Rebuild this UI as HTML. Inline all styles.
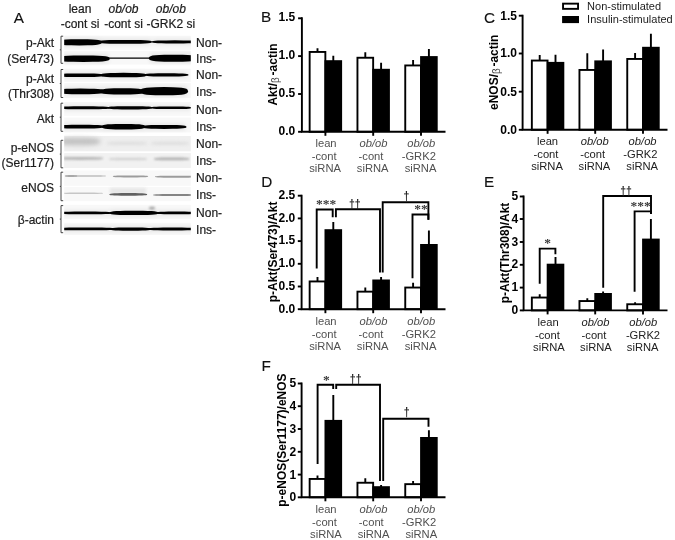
<!DOCTYPE html>
<html><head><meta charset="utf-8"><title>Figure</title>
<style>
html,body{margin:0;padding:0;background:#fff;}
svg{display:block;}
text{font-family:"Liberation Sans",Arial,sans-serif;}
.ax{stroke:#000;stroke-width:1.9;fill:none;}
.tk{font-weight:bold;font-size:12px;fill:#000;text-anchor:end;}
.yl{font-weight:bold;font-size:12px;fill:#000;text-anchor:middle;}
.xl{font-size:11.2px;text-anchor:middle;}
.pl{font-size:15.3px;fill:#111;stroke:#111;stroke-width:0.12px;}
.sg{font-family:"Liberation Serif","DejaVu Serif",serif;font-size:13.5px;font-weight:bold;fill:#3a3a3a;text-anchor:middle;}
.dg{font-family:"Liberation Sans","DejaVu Sans",sans-serif;font-size:10.5px;font-weight:bold;fill:#222;text-anchor:middle;}
.al{font-size:12px;fill:#1c1c1c;stroke:#1c1c1c;stroke-width:0.2px;}
</style></head><body>
<svg width="675" height="540" viewBox="0 0 675 540">
<defs>
<filter id="b0" x="-20%" y="-100%" width="140%" height="300%" color-interpolation-filters="sRGB"><feGaussianBlur stdDeviation="0.75"/></filter>
<filter id="b1" x="-20%" y="-100%" width="140%" height="300%" color-interpolation-filters="sRGB"><feGaussianBlur stdDeviation="1.0"/></filter>
<filter id="b2" x="-20%" y="-100%" width="140%" height="300%" color-interpolation-filters="sRGB"><feGaussianBlur stdDeviation="1.4"/></filter>
<filter id="b3" x="-20%" y="-100%" width="140%" height="300%" color-interpolation-filters="sRGB"><feGaussianBlur stdDeviation="2.0"/></filter>
</defs>
<rect width="675" height="540" fill="#fff"/>
<g>
<text class="pl" x="261.1" y="22.1">B</text>
<path class="ax" d="M317.5 48.3V52.0M333.3 55.7V61.2"/>
<rect x="309.65" y="51.95" width="15.70" height="79.85" fill="#fff" stroke="#000" stroke-width="1.9"/>
<rect x="324.50" y="60.20" width="17.60" height="71.60" fill="#000"/>
<path class="ax" d="M365.3 52.3V57.8M381.1 62.7V69.8"/>
<rect x="357.45" y="57.75" width="15.70" height="74.05" fill="#fff" stroke="#000" stroke-width="1.9"/>
<rect x="372.30" y="68.80" width="17.60" height="63.00" fill="#000"/>
<path class="ax" d="M413.1 59.9V65.5M428.9 49.0V57.1"/>
<rect x="405.25" y="65.45" width="15.70" height="66.35" fill="#fff" stroke="#000" stroke-width="1.9"/>
<rect x="420.10" y="56.10" width="17.60" height="75.70" fill="#000"/>
<path class="ax" d="M301.9 17.35V131.8H445.5"/>
<path class="ax" d="M298.1 18.3H301.9"/>
<text class="tk" x="295.3" y="21.4">1.5</text>
<path class="ax" d="M298.1 56.1H301.9"/>
<text class="tk" x="295.3" y="59.2">1.0</text>
<path class="ax" d="M298.1 94.0H301.9"/>
<text class="tk" x="295.3" y="97.1">0.5</text>
<path class="ax" d="M298.1 131.8H301.9"/>
<text class="tk" x="295.3" y="134.9">0.0</text>
<path class="ax" d="M325.4 131.8V135.8"/>
<text class="xl" fill="#505050" x="326.0" y="146.8">lean</text>
<text class="xl" fill="#505050" x="324.2" y="159.8">-cont</text>
<text class="xl" fill="#505050" x="325.1" y="171.7">siRNA</text>
<path class="ax" d="M373.2 131.8V135.8"/>
<text class="xl" fill="#505050" x="373.5" y="146.8"><tspan font-style="italic">ob/ob</tspan></text>
<text class="xl" fill="#505050" x="371.0" y="159.8">-cont</text>
<text class="xl" fill="#505050" x="372.7" y="171.7">siRNA</text>
<path class="ax" d="M421.0 131.8V135.8"/>
<text class="xl" fill="#505050" x="421.3" y="146.8"><tspan font-style="italic">ob/ob</tspan></text>
<text class="xl" fill="#505050" x="418.8" y="159.8">-GRK2</text>
<text class="xl" fill="#505050" x="420.5" y="171.7">siRNA</text>
<text class="yl" transform="translate(277.3 74.5) rotate(-90)">Akt/<tspan font-weight="normal" font-size="10px" fill="#444" dy="1.2">β</tspan><tspan dy="-1.2" font-size="6px"> </tspan>-actin</text>
</g>
<g>
<text class="pl" x="483.9" y="22.8">C</text>
<path class="ax" d="M539.7 55.1V60.6M555.5 54.8V62.9"/>
<rect x="531.85" y="60.55" width="15.70" height="69.25" fill="#fff" stroke="#000" stroke-width="1.9"/>
<rect x="546.70" y="61.90" width="17.60" height="67.90" fill="#000"/>
<path class="ax" d="M587.3 53.3V70.0M603.1 49.4V61.4"/>
<rect x="579.45" y="69.95" width="15.70" height="59.85" fill="#fff" stroke="#000" stroke-width="1.9"/>
<rect x="594.30" y="60.40" width="17.60" height="69.40" fill="#000"/>
<path class="ax" d="M635.1 53.0V59.0M650.9 33.8V47.8"/>
<rect x="627.25" y="58.95" width="15.70" height="70.85" fill="#fff" stroke="#000" stroke-width="1.9"/>
<rect x="642.10" y="46.80" width="17.60" height="83.00" fill="#000"/>
<path class="ax" d="M522.6 14.75V129.8H667.5"/>
<path class="ax" d="M518.8 15.7H522.6"/>
<text class="tk" x="516.9" y="19.5">1.5</text>
<path class="ax" d="M518.8 53.5H522.6"/>
<text class="tk" x="516.9" y="57.3">1.0</text>
<path class="ax" d="M518.8 91.7H522.6"/>
<text class="tk" x="516.9" y="95.5">0.5</text>
<path class="ax" d="M518.8 129.8H522.6"/>
<text class="tk" x="516.9" y="133.6">0.0</text>
<path class="ax" d="M547.6 129.8V133.8"/>
<text class="xl" fill="#222" x="547.5" y="145.0">lean</text>
<text class="xl" fill="#222" x="546.0" y="158.0">-cont</text>
<text class="xl" fill="#222" x="547.0" y="169.9">siRNA</text>
<path class="ax" d="M595.2 129.8V133.8"/>
<text class="xl" fill="#222" x="594.8" y="145.0"><tspan font-style="italic">ob/ob</tspan></text>
<text class="xl" fill="#222" x="592.6" y="158.0">-cont</text>
<text class="xl" fill="#222" x="594.4" y="169.9">siRNA</text>
<path class="ax" d="M643.0 129.8V133.8"/>
<text class="xl" fill="#222" x="642.6" y="145.0"><tspan font-style="italic">ob/ob</tspan></text>
<text class="xl" fill="#222" x="640.4" y="158.0">-GRK2</text>
<text class="xl" fill="#222" x="642.2" y="169.9">siRNA</text>
<text class="yl" transform="translate(498.3 72.3) rotate(-90)">eNOS/<tspan font-weight="normal" font-size="10px" fill="#444" dy="1.2">β</tspan><tspan dy="-1.2" font-size="6px"> </tspan>-actin</text>
</g>
<g>
<text class="pl" x="261.2" y="187.1">D</text>
<path class="ax" d="M317.5 277.0V281.5M333.3 222.1V230.2"/>
<rect x="309.65" y="281.45" width="15.70" height="27.75" fill="#fff" stroke="#000" stroke-width="1.9"/>
<rect x="324.50" y="229.20" width="17.60" height="80.00" fill="#000"/>
<path class="ax" d="M365.3 287.6V291.7M381.1 277.0V280.5"/>
<rect x="357.45" y="291.65" width="15.70" height="17.55" fill="#fff" stroke="#000" stroke-width="1.9"/>
<rect x="372.30" y="279.50" width="17.60" height="29.70" fill="#000"/>
<path class="ax" d="M413.1 282.7V287.6M428.9 230.5V245.0"/>
<rect x="405.25" y="287.55" width="15.70" height="21.65" fill="#fff" stroke="#000" stroke-width="1.9"/>
<rect x="420.10" y="244.00" width="17.60" height="65.20" fill="#000"/>
<path class="ax" d="M301.6 194.75V309.2H445.5"/>
<path class="ax" d="M297.8 195.7H301.6"/>
<text class="tk" x="295.3" y="199.0">2.5</text>
<path class="ax" d="M297.8 218.4H301.6"/>
<text class="tk" x="295.3" y="221.7">2.0</text>
<path class="ax" d="M297.8 241.1H301.6"/>
<text class="tk" x="295.3" y="244.4">1.5</text>
<path class="ax" d="M297.8 263.8H301.6"/>
<text class="tk" x="295.3" y="267.1">1.0</text>
<path class="ax" d="M297.8 286.5H301.6"/>
<text class="tk" x="295.3" y="289.8">0.5</text>
<path class="ax" d="M297.8 309.2H301.6"/>
<text class="tk" x="295.3" y="312.5">0.0</text>
<path class="ax" d="M325.4 309.2V313.2"/>
<text class="xl" fill="#505050" x="326.0" y="324.6">lean</text>
<text class="xl" fill="#505050" x="324.2" y="337.6">-cont</text>
<text class="xl" fill="#505050" x="325.1" y="349.5">siRNA</text>
<path class="ax" d="M373.2 309.2V313.2"/>
<text class="xl" fill="#505050" x="373.5" y="324.6"><tspan font-style="italic">ob/ob</tspan></text>
<text class="xl" fill="#505050" x="371.0" y="337.6">-cont</text>
<text class="xl" fill="#505050" x="372.7" y="349.5">siRNA</text>
<path class="ax" d="M421.0 309.2V313.2"/>
<text class="xl" fill="#505050" x="421.3" y="324.6"><tspan font-style="italic">ob/ob</tspan></text>
<text class="xl" fill="#505050" x="418.8" y="337.6">-GRK2</text>
<text class="xl" fill="#505050" x="420.5" y="349.5">siRNA</text>
<text class="yl" transform="translate(276.6 251.9) rotate(-90)">p-Akt(Ser473)/Akt</text>
<path class="ax" d="M316.7 268.4V209.5H332.7V217.3"/>
<path class="ax" d="M335.9 217.3V209.3H380.0V272.4"/>
<path class="ax" d="M382.7 272.4V202.2H428.4V219.8"/>
<path class="ax" d="M412.5 278.2V214.5H428.4V219.8"/>
<text class="sg" x="326.0" y="208.4">***</text>
<text class="dg" transform="translate(354.8 207.9) scale(1 1.2)">††</text>
<text class="dg" transform="translate(406.5 199.9) scale(1 1.2)">†</text>
<text class="sg" x="421.1" y="213.2">**</text>
</g>
<g>
<text class="pl" x="484.0" y="186.6">E</text>
<path class="ax" d="M539.7 294.3V297.6M555.5 257.1V264.7"/>
<rect x="531.85" y="297.55" width="15.70" height="12.85" fill="#fff" stroke="#000" stroke-width="1.9"/>
<rect x="546.70" y="263.70" width="17.60" height="46.70" fill="#000"/>
<path class="ax" d="M587.3 298.3V301.1M603.1 291.5V294.0"/>
<rect x="579.45" y="301.05" width="15.70" height="9.35" fill="#fff" stroke="#000" stroke-width="1.9"/>
<rect x="594.30" y="293.00" width="17.60" height="17.40" fill="#000"/>
<path class="ax" d="M635.1 302.3V304.3M650.9 219.1V239.6"/>
<rect x="627.25" y="304.25" width="15.70" height="6.15" fill="#fff" stroke="#000" stroke-width="1.9"/>
<rect x="642.10" y="238.60" width="17.60" height="71.80" fill="#000"/>
<path class="ax" d="M523.6 195.55V310.4H667.5"/>
<path class="ax" d="M519.8 196.5H523.6"/>
<text class="tk" x="518.1" y="200.1">5</text>
<path class="ax" d="M519.8 219.0H523.6"/>
<text class="tk" x="518.1" y="222.6">4</text>
<path class="ax" d="M519.8 242.0H523.6"/>
<text class="tk" x="518.1" y="245.6">3</text>
<path class="ax" d="M519.8 264.8H523.6"/>
<text class="tk" x="518.1" y="268.4">2</text>
<path class="ax" d="M519.8 287.6H523.6"/>
<text class="tk" x="518.1" y="291.2">1</text>
<path class="ax" d="M519.8 310.4H523.6"/>
<text class="tk" x="518.1" y="314.0">0</text>
<path class="ax" d="M547.6 310.4V314.4"/>
<text class="xl" fill="#222" x="548.2" y="325.7">lean</text>
<text class="xl" fill="#222" x="547.4" y="338.7">-cont</text>
<text class="xl" fill="#222" x="548.9" y="350.6">siRNA</text>
<path class="ax" d="M595.2 310.4V314.4"/>
<text class="xl" fill="#222" x="595.5" y="325.7"><tspan font-style="italic">ob/ob</tspan></text>
<text class="xl" fill="#222" x="594.0" y="338.7">-cont</text>
<text class="xl" fill="#222" x="595.9" y="350.6">siRNA</text>
<path class="ax" d="M643.0 310.4V314.4"/>
<text class="xl" fill="#222" x="643.3" y="325.7"><tspan font-style="italic">ob/ob</tspan></text>
<text class="xl" fill="#222" x="643.0" y="338.7">-GRK2</text>
<text class="xl" fill="#222" x="642.7" y="350.6">siRNA</text>
<text class="yl" transform="translate(509 253.0) rotate(-90)">p-Akt(Thr308)/Akt</text>
<path class="ax" d="M539.7 283.8V248.6H555.4V254.3"/>
<path class="ax" d="M603.2 287.7V196.0H651.0V214.1"/>
<path class="ax" d="M634.6 291.7V211.4H651.0V214.1"/>
<text class="sg" x="547.7" y="247.0">*</text>
<text class="dg" transform="translate(626.1 194.9) scale(1 1.2)">††</text>
<text class="sg" x="640.6" y="209.7">***</text>
</g>
<g>
<text class="pl" x="261.6" y="370.6">F</text>
<path class="ax" d="M317.5 475.5V479.0M333.3 395.0V420.9"/>
<rect x="309.65" y="478.95" width="15.70" height="18.35" fill="#fff" stroke="#000" stroke-width="1.9"/>
<rect x="324.50" y="419.90" width="17.60" height="77.40" fill="#000"/>
<path class="ax" d="M365.3 478.2V482.8M381.1 485.0V487.2"/>
<rect x="357.45" y="482.75" width="15.70" height="14.55" fill="#fff" stroke="#000" stroke-width="1.9"/>
<rect x="372.30" y="486.20" width="17.60" height="11.10" fill="#000"/>
<path class="ax" d="M413.1 480.9V484.2M428.9 430.2V438.0"/>
<rect x="405.25" y="484.15" width="15.70" height="13.15" fill="#fff" stroke="#000" stroke-width="1.9"/>
<rect x="420.10" y="437.00" width="17.60" height="60.30" fill="#000"/>
<path class="ax" d="M301.6 382.55V497.3H445.5"/>
<path class="ax" d="M297.8 383.5H301.6"/>
<text class="tk" x="296.1" y="387.4">5</text>
<path class="ax" d="M297.8 406.2H301.6"/>
<text class="tk" x="296.1" y="410.1">4</text>
<path class="ax" d="M297.8 429.0H301.6"/>
<text class="tk" x="296.1" y="432.9">3</text>
<path class="ax" d="M297.8 451.8H301.6"/>
<text class="tk" x="296.1" y="455.7">2</text>
<path class="ax" d="M297.8 474.6H301.6"/>
<text class="tk" x="296.1" y="478.5">1</text>
<path class="ax" d="M297.8 497.3H301.6"/>
<text class="tk" x="296.1" y="501.2">0</text>
<path class="ax" d="M325.4 497.3V501.3"/>
<text class="xl" fill="#505050" x="326.0" y="512.7">lean</text>
<text class="xl" fill="#505050" x="324.5" y="525.7">-cont</text>
<text class="xl" fill="#505050" x="325.9" y="537.6">siRNA</text>
<path class="ax" d="M373.2 497.3V501.3"/>
<text class="xl" fill="#505050" x="373.5" y="512.7"><tspan font-style="italic">ob/ob</tspan></text>
<text class="xl" fill="#505050" x="371.3" y="525.7">-cont</text>
<text class="xl" fill="#505050" x="373.5" y="537.6">siRNA</text>
<path class="ax" d="M421.0 497.3V501.3"/>
<text class="xl" fill="#505050" x="421.3" y="512.7"><tspan font-style="italic">ob/ob</tspan></text>
<text class="xl" fill="#505050" x="419.1" y="525.7">-GRK2</text>
<text class="xl" fill="#505050" x="421.3" y="537.6">siRNA</text>
<text class="yl" transform="translate(286.4 440.1) rotate(-90)">p-eNOS(Ser1177)/eNOS</text>
<path class="ax" d="M317.6 464.0V384.7H333.2V389.0"/>
<path class="ax" d="M336.2 389.0V384.7H380.0V480.9"/>
<path class="ax" d="M383.2 480.9V418.7H428.5V426.7"/>
<text class="sg" x="326.4" y="383.5">*</text>
<text class="dg" transform="translate(355.7 383.4) scale(1 1.2)">††</text>
<text class="dg" transform="translate(406.7 416.0) scale(1 1.2)">†</text>
</g>
<rect x="563.05" y="3.65" width="15" height="5.2" fill="#fff" stroke="#000" stroke-width="1.9"/>
<rect x="562.1" y="16" width="16.9" height="7.1" fill="#000"/>
<text x="587.1" y="9.8" font-size="11px" fill="#1c1c1c">Non-stimulated</text>
<text x="587.1" y="23.1" font-size="11px" fill="#1c1c1c">Insulin-stimulated</text>
<g>
<text class="pl" x="13.8" y="22.5">A</text>
<text class="al" x="80" y="12.7" text-anchor="middle">lean</text>
<text class="al" x="80" y="27.6" text-anchor="middle">-cont si</text>
<text class="al" x="123.5" y="12.7" text-anchor="middle" font-style="italic">ob/ob</text>
<text class="al" x="123.5" y="27.6" text-anchor="middle">-cont si</text>
<text class="al" x="170.8" y="12.7" text-anchor="middle" font-style="italic">ob/ob</text>
<text class="al" x="170.8" y="27.6" text-anchor="middle">-GRK2 si</text>
<clipPath id="cp"><rect x="64.2" y="34" width="126.6" height="202"/></clipPath>
<g clip-path="url(#cp)">
<rect x="61.2" y="35.7" width="132.6" height="14.1" fill="#f8f8f8" filter="url(#b0)"/>
<rect x="61.2" y="50.8" width="132.6" height="13.8" fill="#f8f8f8" filter="url(#b0)"/>
<rect x="61.2" y="68.7" width="132.6" height="13.1" fill="#f8f8f8" filter="url(#b0)"/>
<rect x="61.2" y="83.1" width="132.6" height="14.9" fill="#f8f8f8" filter="url(#b0)"/>
<rect x="61.2" y="102" width="132.6" height="13.8" fill="#f8f8f8" filter="url(#b0)"/>
<rect x="61.2" y="117.6" width="132.6" height="14.8" fill="#f8f8f8" filter="url(#b0)"/>
<rect x="61.2" y="136" width="132.6" height="15.3" fill="#efefef" filter="url(#b0)"/>
<rect x="61.2" y="153.1" width="132.6" height="14.9" fill="#f1f1f1" filter="url(#b0)"/>
<rect x="61.2" y="170.5" width="132.6" height="15.3" fill="#f8f8f8" filter="url(#b0)"/>
<rect x="61.2" y="187.1" width="132.6" height="14.1" fill="#f8f8f8" filter="url(#b0)"/>
<rect x="61.2" y="204.8" width="132.6" height="14.4" fill="#f8f8f8" filter="url(#b0)"/>
<rect x="61.2" y="222.8" width="132.6" height="12.2" fill="#f8f8f8" filter="url(#b0)"/>
<rect x="110" y="188" width="36" height="6" fill="#e6e6e6" filter="url(#b2)"/>
<ellipse cx="152" cy="208" rx="3" ry="1.5" fill="#aaa" filter="url(#b1)"/>
<g fill="#000" opacity="0.08" filter="url(#b3)">
<rect x="58.0" y="38.20" width="42.6" height="8.20"/>
<rect x="99.0" y="38.95" width="52.0" height="5.90"/>
<rect x="152.8" y="39.35" width="44.2" height="5.10"/>
<rect x="58.0" y="54.50" width="50.5" height="8.40"/>
<rect x="150.0" y="53.65" width="47.0" height="9.10"/>
<rect x="58.0" y="72.50" width="45.0" height="5.60"/>
<rect x="102.0" y="71.85" width="43.0" height="6.50"/>
<rect x="145.0" y="72.30" width="42.3" height="5.20"/>
<rect x="58.0" y="87.60" width="45.0" height="7.60"/>
<rect x="101.0" y="87.30" width="42.5" height="8.20"/>
<rect x="141.5" y="86.10" width="45.3" height="10.20"/>
<rect x="58.0" y="105.30" width="51.0" height="5.00"/>
<rect x="109.0" y="105.15" width="42.0" height="5.30"/>
<rect x="152.0" y="105.50" width="38.5" height="4.60"/>
<rect x="58.0" y="123.80" width="45.0" height="5.80"/>
<rect x="103.0" y="122.95" width="41.0" height="7.50"/>
<rect x="143.0" y="123.90" width="42.3" height="6.00"/>
<rect x="58.0" y="210.55" width="54.0" height="4.70"/>
<rect x="111.0" y="209.75" width="46.0" height="6.30"/>
<rect x="156.0" y="210.55" width="41.0" height="4.70"/>
<rect x="58.0" y="226.45" width="55.0" height="4.90"/>
<rect x="111.0" y="226.50" width="39.0" height="5.20"/>
<rect x="148.0" y="226.55" width="49.0" height="4.90"/>
</g>
<path d="M101.8 42.30L101.4 43.44L100.3 44.08L98.4 44.56L95.7 44.93L92.2 45.19L87.6 45.35L79.3 45.40L71.0 45.35L66.4 45.19L62.9 44.93L60.2 44.56L58.3 44.08L57.2 43.44L56.8 42.30L57.2 41.16L58.3 40.52L60.2 40.04L62.9 39.67L66.4 39.41L71.0 39.25L79.3 39.20L87.6 39.25L92.2 39.41L95.7 39.67L98.4 40.04L100.3 40.52L101.4 41.16Z" fill="#000" filter="url(#b0)"/>
<path d="M152.2 41.90L151.7 42.62L150.4 43.02L148.1 43.32L144.9 43.55L140.6 43.72L135.0 43.82L125.0 43.85L115.0 43.82L109.4 43.72L105.1 43.55L101.9 43.32L99.6 43.02L98.3 42.62L97.8 41.90L98.3 41.18L99.6 40.78L101.9 40.48L105.1 40.25L109.4 40.08L115.0 39.98L125.0 39.95L135.0 39.98L140.6 40.08L144.9 40.25L148.1 40.48L150.4 40.78L151.7 41.18Z" fill="#000" filter="url(#b0)"/>
<path d="M198.2 41.90L197.8 42.47L196.6 42.79L194.7 43.03L191.9 43.22L188.3 43.35L183.5 43.42L174.9 43.45L166.3 43.42L161.5 43.35L157.9 43.22L155.1 43.03L153.2 42.79L152.0 42.47L151.6 41.90L152.0 41.33L153.2 41.01L155.1 40.77L157.9 40.58L161.5 40.45L166.3 40.38L174.9 40.35L183.5 40.38L188.3 40.45L191.9 40.58L194.7 40.77L196.6 41.01L197.8 41.33Z" fill="#000" filter="url(#b0)"/>
<path d="M109.7 58.70L109.3 59.88L107.9 60.53L105.7 61.04L102.6 61.42L98.4 61.69L93.0 61.85L83.3 61.90L73.5 61.85L68.1 61.69L63.9 61.42L60.8 61.04L58.6 60.53L57.2 59.88L56.8 58.70L57.2 57.52L58.6 56.87L60.8 56.36L63.9 55.98L68.1 55.71L73.5 55.55L83.2 55.50L93.0 55.55L98.4 55.71L102.6 55.98L105.7 56.36L107.9 56.87L109.3 57.52Z" fill="#000" filter="url(#b0)"/>
<path d="M155.2 58.10L154.8 58.36L153.4 58.50L151.2 58.61L148.1 58.69L144.0 58.75L138.6 58.79L129.0 58.80L119.4 58.79L114.0 58.75L109.9 58.69L106.8 58.61L104.6 58.50L103.2 58.36L102.8 58.10L103.2 57.84L104.6 57.70L106.8 57.59L109.9 57.51L114.0 57.45L119.4 57.41L129.0 57.40L138.6 57.41L144.0 57.45L148.1 57.51L151.2 57.59L153.4 57.70L154.8 57.84Z" fill="#000" filter="url(#b0)"/>
<path d="M198.2 58.20L197.8 59.50L196.5 60.23L194.5 60.79L191.5 61.21L187.7 61.51L182.6 61.69L173.5 61.75L164.4 61.69L159.3 61.51L155.5 61.21L152.5 60.79L150.5 60.23L149.2 59.50L148.8 58.20L149.2 56.90L150.5 56.17L152.5 55.61L155.5 55.19L159.3 54.89L164.4 54.71L173.5 54.65L182.6 54.71L187.7 54.89L191.5 55.19L194.5 55.61L196.5 56.17L197.8 56.90Z" fill="#000" filter="url(#b0)"/>
<path d="M104.2 75.30L103.8 75.96L102.6 76.33L100.6 76.61L97.8 76.83L94.1 76.98L89.2 77.07L80.5 77.10L71.8 77.07L66.9 76.98L63.2 76.83L60.4 76.61L58.4 76.33L57.2 75.96L56.8 75.30L57.2 74.64L58.4 74.27L60.4 73.99L63.2 73.77L66.9 73.62L71.8 73.53L80.5 73.50L89.2 73.53L94.1 73.62L97.8 73.77L100.6 73.99L102.6 74.27L103.8 74.64Z" fill="#000" filter="url(#b0)"/>
<path d="M146.2 75.10L145.8 75.93L144.7 76.39L142.8 76.74L140.1 77.01L136.5 77.20L131.8 77.31L123.5 77.35L115.2 77.31L110.5 77.20L106.9 77.01L104.2 76.74L102.3 76.39L101.2 75.93L100.8 75.10L101.2 74.27L102.3 73.81L104.2 73.46L106.9 73.19L110.5 73.00L115.2 72.89L123.5 72.85L131.8 72.89L136.5 73.00L140.1 73.19L142.8 73.46L144.7 73.81L145.8 74.27Z" fill="#000" filter="url(#b0)"/>
<path d="M188.5 74.90L188.1 75.49L187.0 75.82L185.1 76.07L182.5 76.26L179.0 76.39L174.4 76.47L166.2 76.50L157.9 76.47L153.3 76.39L149.8 76.26L147.2 76.07L145.3 75.82L144.2 75.49L143.8 74.90L144.2 74.31L145.3 73.98L147.2 73.73L149.8 73.54L153.3 73.41L157.9 73.33L166.1 73.30L174.4 73.33L179.0 73.41L182.5 73.54L185.1 73.73L187.0 73.98L188.1 74.31Z" fill="#000" filter="url(#b0)"/>
<path d="M104.2 91.40L103.8 92.43L102.6 93.00L100.6 93.44L97.8 93.78L94.1 94.01L89.2 94.15L80.5 94.20L71.8 94.15L66.9 94.01L63.2 93.78L60.4 93.44L58.4 93.00L57.2 92.43L56.8 91.40L57.2 90.37L58.4 89.80L60.4 89.36L63.2 89.02L66.9 88.79L71.8 88.65L80.5 88.60L89.2 88.65L94.1 88.79L97.8 89.02L100.6 89.36L102.6 89.80L103.8 90.37Z" fill="#000" filter="url(#b0)"/>
<path d="M144.7 91.40L144.3 92.54L143.2 93.18L141.3 93.66L138.6 94.03L135.1 94.29L130.5 94.45L122.3 94.50L114.0 94.45L109.4 94.29L105.9 94.03L103.2 93.66L101.3 93.18L100.2 92.54L99.8 91.40L100.2 90.26L101.3 89.62L103.2 89.14L105.9 88.77L109.4 88.51L114.0 88.35L122.2 88.30L130.5 88.35L135.1 88.51L138.6 88.77L141.3 89.14L143.2 89.62L144.3 90.26Z" fill="#000" filter="url(#b0)"/>
<path d="M188.0 91.20L187.6 92.71L186.4 93.55L184.4 94.19L181.6 94.68L177.8 95.02L172.9 95.23L164.2 95.30L155.4 95.23L150.5 95.02L146.7 94.68L143.9 94.19L141.9 93.55L140.7 92.71L140.3 91.20L140.7 89.69L141.9 88.85L143.9 88.21L146.7 87.72L150.5 87.38L155.4 87.17L164.1 87.10L172.9 87.17L177.8 87.38L181.6 87.72L184.4 88.21L186.4 88.85L187.6 89.69Z" fill="#000" filter="url(#b0)"/>
<path d="M110.2 107.80L109.8 108.35L108.4 108.66L106.2 108.89L103.0 109.07L98.8 109.20L93.3 109.27L83.5 109.30L73.7 109.27L68.2 109.20L64.0 109.07L60.8 108.89L58.6 108.66L57.2 108.35L56.8 107.80L57.2 107.25L58.6 106.94L60.8 106.71L64.0 106.53L68.2 106.40L73.7 106.33L83.5 106.30L93.3 106.33L98.8 106.40L103.0 106.53L106.2 106.71L108.4 106.94L109.8 107.25Z" fill="#000" filter="url(#b0)"/>
<path d="M152.2 107.80L151.8 108.41L150.7 108.75L148.8 109.00L146.2 109.20L142.7 109.34L138.2 109.42L130.0 109.45L121.8 109.42L117.3 109.34L113.8 109.20L111.2 109.00L109.3 108.75L108.2 108.41L107.8 107.80L108.2 107.19L109.3 106.85L111.2 106.60L113.8 106.40L117.3 106.26L121.8 106.18L130.0 106.15L138.2 106.18L142.7 106.26L146.2 106.40L148.8 106.60L150.7 106.85L151.8 107.19Z" fill="#000" filter="url(#b0)"/>
<path d="M191.7 107.80L191.4 108.28L190.3 108.55L188.6 108.75L186.2 108.90L183.0 109.01L178.8 109.08L171.3 109.10L163.7 109.08L159.5 109.01L156.3 108.90L153.9 108.75L152.2 108.55L151.1 108.28L150.8 107.80L151.1 107.32L152.2 107.05L153.9 106.85L156.3 106.70L159.5 106.59L163.7 106.52L171.2 106.50L178.8 106.52L183.0 106.59L186.2 106.70L188.6 106.85L190.3 107.05L191.4 107.32Z" fill="#000" filter="url(#b0)"/>
<path d="M104.2 126.70L103.8 127.40L102.6 127.79L100.6 128.09L97.8 128.31L94.1 128.47L89.2 128.57L80.5 128.60L71.8 128.57L66.9 128.47L63.2 128.31L60.4 128.09L58.4 127.79L57.2 127.40L56.8 126.70L57.2 126.00L58.4 125.61L60.4 125.31L63.2 125.09L66.9 124.93L71.8 124.83L80.5 124.80L89.2 124.83L94.1 124.93L97.8 125.09L100.6 125.31L102.6 125.61L103.8 126.00Z" fill="#000" filter="url(#b0)"/>
<path d="M145.2 126.70L144.8 127.71L143.7 128.28L141.9 128.71L139.3 129.03L135.9 129.27L131.5 129.40L123.5 129.45L115.5 129.40L111.1 129.27L107.7 129.03L105.1 128.71L103.3 128.28L102.2 127.71L101.8 126.70L102.2 125.69L103.3 125.12L105.1 124.69L107.7 124.37L111.1 124.13L115.5 124.00L123.5 123.95L131.5 124.00L135.9 124.13L139.3 124.37L141.9 124.69L143.7 125.12L144.8 125.69Z" fill="#000" filter="url(#b0)"/>
<path d="M186.5 126.90L186.1 127.63L185.0 128.05L183.1 128.36L180.5 128.60L177.0 128.77L172.4 128.87L164.2 128.90L155.9 128.87L151.3 128.77L147.8 128.60L145.2 128.36L143.3 128.05L142.2 127.63L141.8 126.90L142.2 126.17L143.3 125.75L145.2 125.44L147.8 125.20L151.3 125.03L155.9 124.93L164.1 124.90L172.4 124.93L177.0 125.03L180.5 125.20L183.1 125.44L185.0 125.75L186.1 126.17Z" fill="#000" filter="url(#b0)"/>
<path d="M100.2 141.50L99.8 142.88L98.7 143.65L96.9 144.24L94.3 144.68L90.9 145.00L86.5 145.19L78.5 145.25L70.5 145.19L66.1 145.00L62.7 144.68L60.1 144.24L58.3 143.65L57.2 142.88L56.8 141.50L57.2 140.12L58.3 139.35L60.1 138.76L62.7 138.32L66.1 138.00L70.5 137.81L78.5 137.75L86.5 137.81L90.9 138.00L94.3 138.32L96.9 138.76L98.7 139.35L99.8 140.12Z" fill="#c2c2c2" filter="url(#b3)"/>
<path d="M147.2 143.30L146.9 143.85L145.8 144.16L144.1 144.39L141.7 144.57L138.6 144.70L134.4 144.77L127.0 144.80L119.6 144.77L115.4 144.70L112.3 144.57L109.9 144.39L108.2 144.16L107.1 143.85L106.8 143.30L107.1 142.75L108.2 142.44L109.9 142.21L112.3 142.03L115.4 141.90L119.6 141.83L127.0 141.80L134.4 141.83L138.6 141.90L141.7 142.03L144.1 142.21L145.8 142.44L146.9 142.75Z" fill="#dcdcdc" filter="url(#b2)"/>
<path d="M189.2 143.30L188.9 143.85L187.9 144.16L186.3 144.39L184.0 144.57L181.0 144.70L177.1 144.77L170.0 144.80L162.9 144.77L159.0 144.70L156.0 144.57L153.7 144.39L152.1 144.16L151.1 143.85L150.8 143.30L151.1 142.75L152.1 142.44L153.7 142.21L156.0 142.03L159.0 141.90L162.9 141.83L170.0 141.80L177.1 141.83L181.0 141.90L184.0 142.03L186.3 142.21L187.9 142.44L188.9 142.75Z" fill="#dcdcdc" filter="url(#b2)"/>
<path d="M103.2 158.40L102.8 158.95L101.6 159.26L99.7 159.49L96.9 159.67L93.3 159.80L88.5 159.87L80.0 159.90L71.5 159.87L66.7 159.80L63.1 159.67L60.3 159.49L58.4 159.26L57.2 158.95L56.8 158.40L57.2 157.85L58.4 157.54L60.3 157.31L63.1 157.13L66.7 157.00L71.5 156.93L80.0 156.90L88.5 156.93L93.3 157.00L96.9 157.13L99.7 157.31L101.6 157.54L102.8 157.85Z" fill="#b6b6b6" filter="url(#b1)"/>
<path d="M147.2 159.00L146.9 159.46L145.9 159.72L144.3 159.91L142.0 160.06L139.0 160.17L135.1 160.23L128.0 160.25L120.9 160.23L117.0 160.17L114.0 160.06L111.7 159.91L110.1 159.72L109.1 159.46L108.8 159.00L109.1 158.54L110.1 158.28L111.7 158.09L114.0 157.94L117.0 157.83L120.9 157.77L128.0 157.75L135.1 157.77L139.0 157.83L142.0 157.94L144.3 158.09L145.9 158.28L146.9 158.54Z" fill="#d2d2d2" filter="url(#b1)"/>
<path d="M189.5 158.90L189.2 159.41L188.3 159.70L186.8 159.92L184.7 160.09L181.9 160.21L178.2 160.28L171.7 160.30L165.1 160.28L161.4 160.21L158.6 160.09L156.5 159.92L155.0 159.70L154.1 159.41L153.8 158.90L154.1 158.39L155.0 158.10L156.5 157.88L158.6 157.71L161.4 157.59L165.1 157.52L171.6 157.50L178.2 157.52L181.9 157.59L184.7 157.71L186.8 157.88L188.3 158.10L189.2 158.39Z" fill="#b0b0b0" filter="url(#b1)"/>
<path d="M106.2 176.00L105.9 176.29L104.8 176.46L103.1 176.58L100.7 176.68L97.6 176.75L93.4 176.79L86.0 176.80L78.6 176.79L74.4 176.75L71.3 176.68L68.9 176.58L67.2 176.46L66.1 176.29L65.8 176.00L66.1 175.71L67.2 175.54L68.9 175.42L71.3 175.32L74.4 175.25L78.6 175.21L86.0 175.20L93.4 175.21L97.6 175.25L100.7 175.32L103.1 175.42L104.8 175.54L105.9 175.71Z" fill="#bdbdbd" filter="url(#b0)"/>
<path d="M77.2 176.00L77.1 176.33L76.8 176.52L76.3 176.66L75.5 176.76L74.6 176.84L73.3 176.88L71.0 176.90L68.7 176.88L67.4 176.84L66.5 176.76L65.7 176.66L65.2 176.52L64.9 176.33L64.8 176.00L64.9 175.67L65.2 175.48L65.7 175.34L66.5 175.24L67.4 175.16L68.7 175.12L71.0 175.10L73.3 175.12L74.6 175.16L75.5 175.24L76.3 175.34L76.8 175.48L77.1 175.67Z" fill="#a8a8a8" filter="url(#b0)"/>
<path d="M148.2 176.40L147.9 176.77L147.0 176.97L145.5 177.13L143.4 177.25L140.6 177.33L137.0 177.38L130.5 177.40L124.0 177.38L120.4 177.33L117.6 177.25L115.5 177.13L114.0 176.97L113.1 176.77L112.8 176.40L113.1 176.03L114.0 175.83L115.5 175.67L117.6 175.55L120.4 175.47L124.0 175.42L130.5 175.40L137.0 175.42L140.6 175.47L143.4 175.55L145.5 175.67L147.0 175.83L147.9 176.03Z" fill="#9c9c9c" filter="url(#b0)"/>
<path d="M197.2 176.70L196.8 177.07L195.8 177.27L194.0 177.43L191.5 177.55L188.2 177.63L183.8 177.68L176.0 177.70L168.2 177.68L163.8 177.63L160.5 177.55L158.0 177.43L156.2 177.27L155.2 177.07L154.8 176.70L155.2 176.33L156.2 176.13L158.0 175.97L160.5 175.85L163.8 175.77L168.2 175.72L176.0 175.70L183.8 175.72L188.2 175.77L191.5 175.85L194.0 175.97L195.8 176.13L196.8 176.33Z" fill="#9c9c9c" filter="url(#b0)"/>
<path d="M103.2 193.30L102.8 193.58L101.8 193.73L100.0 193.85L97.5 193.94L94.2 194.00L89.8 194.04L82.0 194.05L74.2 194.04L69.8 194.00L66.5 193.94L64.0 193.85L62.2 193.73L61.2 193.58L60.8 193.30L61.2 193.02L62.2 192.87L64.0 192.75L66.5 192.66L69.8 192.60L74.2 192.56L82.0 192.55L89.8 192.56L94.2 192.60L97.5 192.66L100.0 192.75L101.8 192.87L102.8 193.02Z" fill="#c6c6c6" filter="url(#b0)"/>
<path d="M147.2 194.40L146.9 194.88L145.9 195.15L144.3 195.35L142.1 195.50L139.1 195.61L135.2 195.68L128.3 195.70L121.3 195.68L117.4 195.61L114.4 195.50L112.2 195.35L110.6 195.15L109.6 194.88L109.3 194.40L109.6 193.92L110.6 193.65L112.2 193.45L114.4 193.30L117.4 193.19L121.3 193.12L128.2 193.10L135.2 193.12L139.1 193.19L142.1 193.30L144.3 193.45L145.9 193.65L146.9 193.92Z" fill="#606060" filter="url(#b0)"/>
<path d="M197.2 195.00L196.8 195.37L195.7 195.57L193.8 195.73L191.2 195.85L187.7 195.93L183.2 195.98L175.0 196.00L166.8 195.98L162.3 195.93L158.8 195.85L156.2 195.73L154.3 195.57L153.2 195.37L152.8 195.00L153.2 194.63L154.3 194.43L156.2 194.27L158.8 194.15L162.3 194.07L166.8 194.02L175.0 194.00L183.2 194.02L187.7 194.07L191.2 194.15L193.8 194.27L195.7 194.43L196.8 194.63Z" fill="#848484" filter="url(#b0)"/>
<path d="M113.2 212.90L112.7 213.40L111.3 213.67L108.9 213.89L105.6 214.05L101.2 214.16L95.4 214.23L85.0 214.25L74.6 214.23L68.8 214.16L64.4 214.05L61.1 213.89L58.7 213.67L57.3 213.40L56.8 212.90L57.3 212.40L58.7 212.13L61.1 211.91L64.4 211.75L68.8 211.64L74.6 211.57L85.0 211.55L95.4 211.57L101.2 211.64L105.6 211.75L108.9 211.91L111.3 212.13L112.7 212.40Z" fill="#000" filter="url(#b0)"/>
<path d="M158.2 212.90L157.8 213.69L156.6 214.13L154.5 214.47L151.7 214.72L147.9 214.91L142.9 215.01L134.0 215.05L125.1 215.01L120.1 214.91L116.3 214.72L113.5 214.47L111.4 214.13L110.2 213.69L109.8 212.90L110.2 212.11L111.4 211.67L113.5 211.33L116.3 211.08L120.1 210.89L125.1 210.79L134.0 210.75L142.9 210.79L147.9 210.89L151.7 211.08L154.5 211.33L156.6 211.67L157.8 212.11Z" fill="#000" filter="url(#b0)"/>
<path d="M198.2 212.90L197.8 213.40L196.7 213.67L194.9 213.89L192.3 214.05L188.9 214.16L184.5 214.23L176.5 214.25L168.5 214.23L164.1 214.16L160.7 214.05L158.1 213.89L156.3 213.67L155.2 213.40L154.8 212.90L155.2 212.40L156.3 212.13L158.1 211.91L160.7 211.75L164.1 211.64L168.5 211.57L176.5 211.55L184.5 211.57L188.9 211.64L192.3 211.75L194.9 211.91L196.7 212.13L197.8 212.40Z" fill="#000" filter="url(#b0)"/>
<path d="M114.2 228.90L113.7 229.43L112.3 229.73L109.9 229.96L106.4 230.13L101.9 230.25L96.0 230.33L85.5 230.35L75.0 230.33L69.1 230.25L64.6 230.13L61.1 229.96L58.7 229.73L57.3 229.43L56.8 228.90L57.3 228.37L58.7 228.07L61.1 227.84L64.6 227.67L69.1 227.55L75.0 227.47L85.5 227.45L96.0 227.47L101.9 227.55L106.4 227.67L109.9 227.84L112.3 228.07L113.7 228.37Z" fill="#000" filter="url(#b0)"/>
<path d="M151.2 229.10L150.9 229.69L149.8 230.02L148.1 230.27L145.6 230.46L142.4 230.59L138.1 230.67L130.5 230.70L122.9 230.67L118.6 230.59L115.4 230.46L112.9 230.27L111.2 230.02L110.1 229.69L109.8 229.10L110.1 228.51L111.2 228.18L112.9 227.93L115.4 227.74L118.6 227.61L122.9 227.53L130.5 227.50L138.1 227.53L142.4 227.61L145.6 227.74L148.1 227.93L149.8 228.18L150.9 228.51Z" fill="#000" filter="url(#b0)"/>
<path d="M198.2 229.00L197.8 229.53L196.5 229.83L194.3 230.06L191.3 230.23L187.2 230.35L181.9 230.43L172.5 230.45L163.1 230.43L157.8 230.35L153.7 230.23L150.7 230.06L148.5 229.83L147.2 229.53L146.8 229.00L147.2 228.47L148.5 228.17L150.7 227.94L153.7 227.77L157.8 227.65L163.1 227.57L172.5 227.55L181.9 227.57L187.2 227.65L191.3 227.77L194.3 227.94L196.5 228.17L197.8 228.47Z" fill="#000" filter="url(#b0)"/>
</g>
<text class="al" x="54" y="47.0" text-anchor="end">p-Akt</text>
<text class="al" x="54" y="62.7" text-anchor="end">(Ser473)</text>
<text class="al" x="54" y="82.8" text-anchor="end">p-Akt</text>
<text class="al" x="54" y="97.9" text-anchor="end">(Thr308)</text>
<text class="al" x="54" y="123.2" text-anchor="end">Akt</text>
<text class="al" x="54" y="152.2" text-anchor="end">p-eNOS</text>
<text class="al" x="54" y="166.8" text-anchor="end">(Ser1177)</text>
<text class="al" x="54" y="192.1" text-anchor="end">eNOS</text>
<text class="al" x="54" y="223.6" text-anchor="end">β-actin</text>
<text class="al" x="196.1" y="47.3">Non-</text>
<text class="al" x="196.1" y="63">Ins-</text>
<text class="al" x="196.1" y="79.3">Non-</text>
<text class="al" x="196.1" y="96">Ins-</text>
<text class="al" x="196.1" y="113.5">Non-</text>
<text class="al" x="196.1" y="131.2">Ins-</text>
<text class="al" x="196.1" y="147.7">Non-</text>
<text class="al" x="196.1" y="164.8">Ins-</text>
<text class="al" x="196.1" y="182">Non-</text>
<text class="al" x="196.1" y="199.1">Ins-</text>
<text class="al" x="196.1" y="217">Non-</text>
<text class="al" x="196.1" y="233.9">Ins-</text>
<path d="M63.2 36.2H61V49.8H59.8M61 49.8V63.3H63.2" fill="none" stroke="#333" stroke-width="0.9"/>
<path d="M63.2 69.5H61V83.5H59.8M61 83.5V97.5H63.2" fill="none" stroke="#333" stroke-width="0.9"/>
<path d="M63.2 103.2H61V117.2H59.8M61 117.2V131.3H63.2" fill="none" stroke="#333" stroke-width="0.9"/>
<path d="M63.2 140.3H61V154.1H59.8M61 154.1V167.8H63.2" fill="none" stroke="#333" stroke-width="0.9"/>
<path d="M63.2 172.2H61V186.4H59.8M61 186.4V200.7H63.2" fill="none" stroke="#333" stroke-width="0.9"/>
<path d="M63.2 205.6H61V219.1H59.8M61 219.1V232.7H63.2" fill="none" stroke="#333" stroke-width="0.9"/>
</g>
</svg></body></html>
